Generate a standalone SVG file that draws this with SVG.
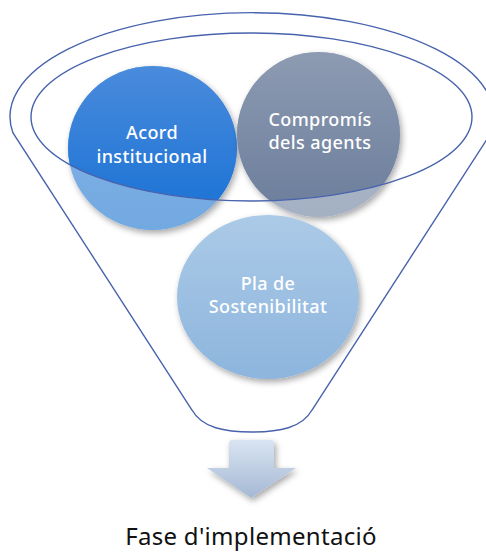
<svg xmlns="http://www.w3.org/2000/svg" width="486" height="554" viewBox="0 0 486 554">
<style>
.fun{fill:none;stroke:#4863ad;stroke-width:1.4}
.lbl{font-family:"Noto Sans","Open Sans",sans-serif;font-size:18px;font-weight:500;letter-spacing:0.4px;fill:#ffffff;text-anchor:middle}
.cap{font-family:"Noto Sans","Open Sans",sans-serif;font-size:24px;letter-spacing:0.3px;fill:#111111;text-anchor:middle}
</style>
<defs>
<filter id="sh" x="-20%" y="-20%" width="150%" height="150%">
<feDropShadow dx="2" dy="3" stdDeviation="3" flood-color="#000" flood-opacity="0.35"/>
</filter>
<clipPath id="inner"><ellipse cx="251.5" cy="117" rx="220.5" ry="84"/></clipPath>
<linearGradient id="gBlue" x1="0" y1="0" x2="0" y2="1"><stop offset="0" stop-color="#4a8bdc"/><stop offset="1" stop-color="#1670d5"/></linearGradient>
<linearGradient id="gBlueL" x1="0" y1="0" x2="0" y2="1"><stop offset="0" stop-color="#86b4e6"/><stop offset="1" stop-color="#72a9e1"/></linearGradient>
<linearGradient id="gGray" x1="0" y1="0" x2="0" y2="1"><stop offset="0" stop-color="#8d9bb2"/><stop offset="1" stop-color="#6b7d9b"/></linearGradient>
<linearGradient id="gGrayL" x1="0" y1="0" x2="0" y2="1"><stop offset="0" stop-color="#b1bccb"/><stop offset="1" stop-color="#a4b0c3"/></linearGradient>
<linearGradient id="gPla" x1="0" y1="0" x2="0" y2="1"><stop offset="0" stop-color="#abcae7"/><stop offset="1" stop-color="#8db5dd"/></linearGradient>
<linearGradient id="gArr" x1="0" y1="0" x2="0" y2="1"><stop offset="0" stop-color="#d9e4f2"/><stop offset="1" stop-color="#a5b8d4"/></linearGradient>
</defs>
<g id="funnel">
<path class="fun" d="M13,133 A242,104 0 1 1 491,133 L312,410 C302,428 279,432 252,432 C225,432 202,428 192,410 Z"/>
</g>
<g id="node-acord">
<ellipse cx="152.5" cy="148" rx="84.5" ry="82" fill="url(#gBlueL)" filter="url(#sh)"/>
<ellipse cx="152.5" cy="148" rx="84.5" ry="82" fill="url(#gBlue)" clip-path="url(#inner)"/>
<text class="lbl" x="152" y="139">Acord</text>
<text class="lbl" x="152" y="163">institucional</text>
</g>
<g id="node-compromis">
<ellipse cx="318.5" cy="134.5" rx="81.5" ry="82.5" fill="url(#gGrayL)" filter="url(#sh)"/>
<ellipse cx="318.5" cy="134.5" rx="81.5" ry="82.5" fill="url(#gGray)" clip-path="url(#inner)"/>
<text class="lbl" x="320" y="126">Compromís</text>
<text class="lbl" x="320" y="149">dels agents</text>
</g>
<g id="node-pla">
<ellipse cx="268" cy="297" rx="91" ry="82" fill="url(#gPla)" filter="url(#sh)"/>
<text class="lbl" x="268" y="290">Pla de</text>
<text class="lbl" x="268" y="313">Sostenibilitat</text>
</g>
<g id="rim">
<ellipse class="fun" cx="251.5" cy="117" rx="220.5" ry="84"/>
</g>
<g id="connectors">
<path d="M232,440 L271,440 Q274,440 274,443 L274,468 L296,468 L251,498 L207,468 L229,468 L229,443 Q229,440 232,440 Z" fill="url(#gArr)" filter="url(#sh)"/>
</g>
<g id="node-fase">
<text class="cap" x="251" y="545">Fase d'implementació</text>
</g>
</svg>
